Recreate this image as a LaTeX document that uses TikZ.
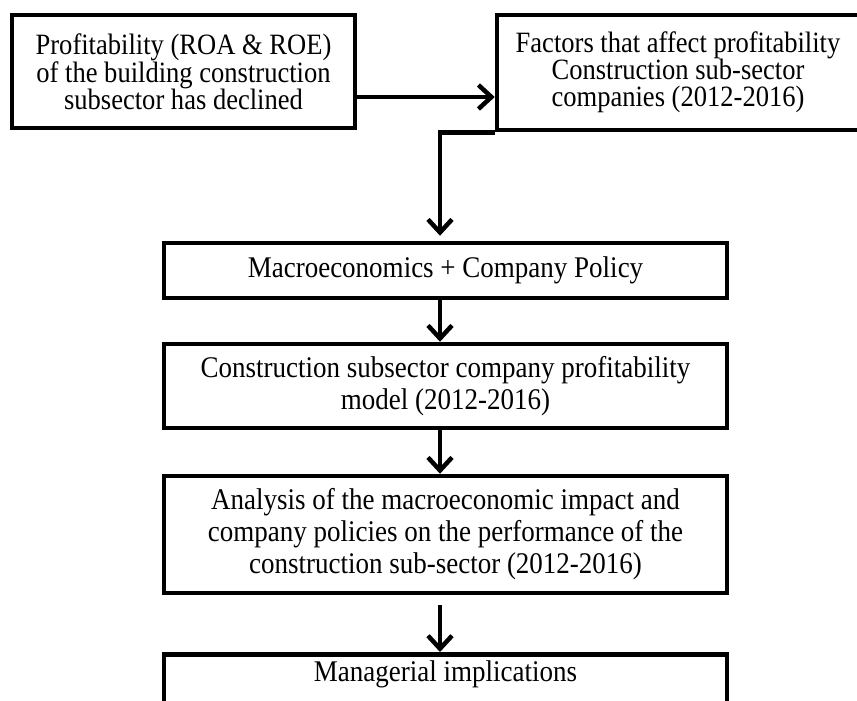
\documentclass[tikz,border=0pt]{standalone}
\usepackage{fontspec}
\setmainfont{Liberation Serif}[FakeStretch=0.9]
\usetikzlibrary{arrows.meta}
\tikzset{
  box/.style={draw, line width=4.5pt, align=center, inner sep=0pt,
    font=\fontsize{30}{32}\selectfont},
  flow/.style={line width=4.5pt, -{Straight Barb[length=13pt,width=24pt]}}
}
\begin{document}
\begin{tikzpicture}[x=1pt, y=-1pt]
            \useasboundingbox (0,0) rectangle (857,701);
            \coordinate (axis) at (440,0);
            \coordinate (lvl) at (0,97);
            \node[box, minimum width=343, minimum height=113, font=\fontsize{29.5}{27}\selectfont] (decline) at (183.5,71.5) {Profitability (ROA \& ROE)\\of the building construction\\subsector has declined};
            \node[box, minimum width=362, minimum height=115, font=\fontsize{29.5}{27}\selectfont] (factors) at (678,72.5) {Factors that affect profitability\\Construction sub-sector\\companies (2012-2016)};
            \node[box, minimum width=563, minimum height=55] (macro) at (445.5,270.5) {Macroeconomics + Company Policy};
            \node[box, minimum width=563, minimum height=84] (model) at (445.5,386) {Construction subsector company profitability\\model (2012-2016)};
            \node[box, minimum width=563, minimum height=117] (analysis) at (445.5,534.5) {Analysis of the macroeconomic impact and\\company policies on the performance of the\\construction sub-sector (2012-2016)};
            \node[box, minimum width=563, anchor=north, inner ysep=7pt, text height=20pt, text depth=70pt] (implic) at (445.5,652) {Managerial implications};
            \draw[flow] (decline.east |- lvl) -- (factors.west |- lvl);
            \draw[flow] (factors.south west) -| ([yshift=5pt]macro.north -| axis);
            \draw[flow] (macro.south -| axis) -- (model.north -| axis);
            \draw[flow] (model.south -| axis) -- (analysis.north -| axis);
            \draw[flow, shorten <=10pt] (analysis.south -| axis) -- (implic.north -| axis);
\end{tikzpicture}
\end{document}
